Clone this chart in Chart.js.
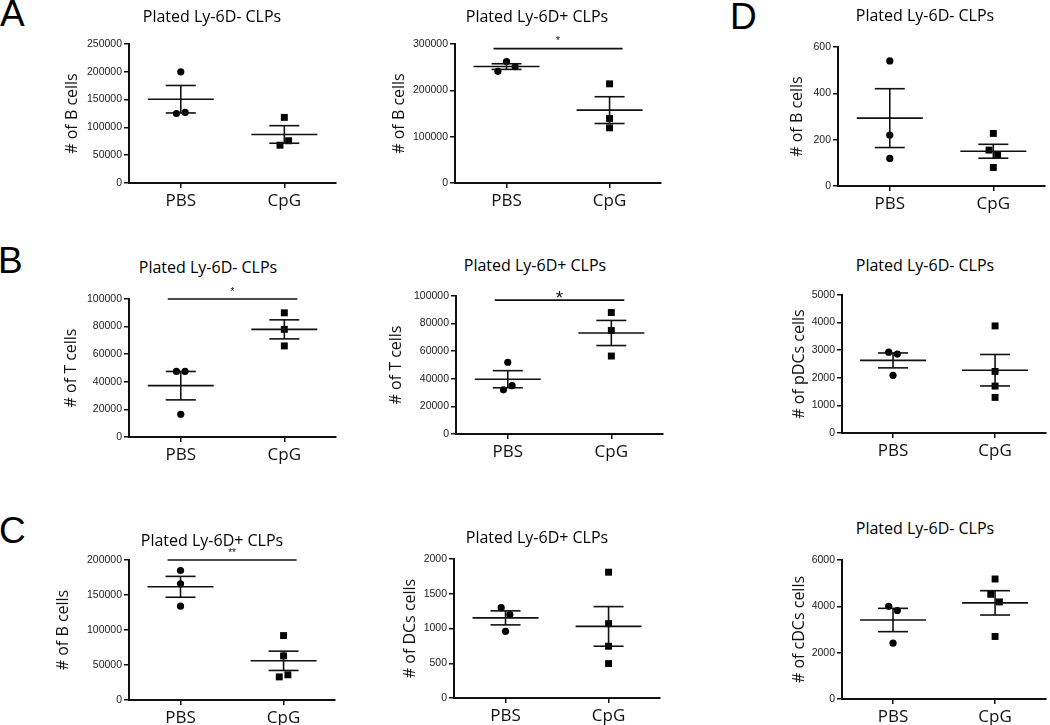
<!DOCTYPE html>
<html>
<head>
<meta charset="utf-8">
<title>B, T and DC output of plated CLPs</title>
<script src="https://cdn.jsdelivr.net/npm/chart.js@4.4.1/dist/chart.umd.min.js"></script>
<style>
  html, body { margin: 0; padding: 0; background: #fff; }
  #figure { position: relative; width: 1050px; height: 725px; overflow: hidden; }
  #figure canvas { position: absolute; }
  .letter { position: absolute; font-family: "Liberation Sans", Arial, sans-serif; font-size: 37px; line-height: 37px; color: #000; }
  .title { position: absolute; font-family: "Open Sans", sans-serif; font-size: 16px; line-height: 1; color: #000; white-space: nowrap; transform: translate(-50%, -50%); }
</style>
</head>
<body>
<div id="figure">
  <div class="letter" style="left:0px; top:-5px">A</div>
  <div class="letter" style="left:-2px; top:242px">B</div>
  <div class="letter" style="left:-1px; top:512px">C</div>
  <div class="letter" style="left:730px; top:-2px">D</div>
</div>

<script>
const groups = ['PBS', 'CpG'];
const titleMinus = 'Plated Ly-6D- CLPs';
const titlePlus = 'Plated Ly-6D+ CLPs';

// A, left
const aLeftPbs = [200000, 125000, 127000];
const aLeftCpg = [118000, 68000, 76000];
const aLeftMean = [150700, 87300];
const aLeftSem = [24700, 15800];
const aLeftTicks = [0, 50000, 100000, 150000, 200000, 250000];

// A, right
const aRightPbs = [241000, 262000, 251000];
const aRightCpg = [214000, 139000, 119000];
const aRightMean = [251300, 157300];
const aRightSem = [6100, 28900];
const aRightTicks = [0, 100000, 200000, 300000];
const aRightSig = 290000;

// B, left
const bLeftPbs = [47500, 47500, 16500];
const bLeftCpg = [90000, 78000, 66000];
const bLeftMean = [37200, 78000];
const bLeftSem = [10300, 6900];
const bLeftTicks = [0, 20000, 40000, 60000, 80000, 100000];
const bLeftSig = 100000;

// B, right
const bRightPbs = [52000, 32000, 35000];
const bRightCpg = [88000, 75000, 56500];
const bRightMean = [39700, 73200];
const bRightSem = [6200, 9100];
const bRightTicks = [0, 20000, 40000, 60000, 80000, 100000];
const bRightSig = 97000;

// C, left
const cLeftPbs = [185000, 166000, 134000];
const cLeftCpg = [92000, 63000, 33000, 36000];
const cLeftMean = [161700, 56000];
const cLeftSem = [14900, 13800];
const cLeftTicks = [0, 50000, 100000, 150000, 200000];
const cLeftSig = 200000;

// C, right
const cRightPbs = [1300, 1200, 960];
const cRightCpg = [1810, 1070, 745, 495];
const cRightMean = [1153, 1030];
const cRightSem = [101, 285];
const cRightTicks = [0, 500, 1000, 1500, 2000];

// D, top / middle / bottom
const dTopPbs = [540, 220, 119];
const dTopCpg = [227, 155, 136, 80];
const dTopMean = [293, 150];
const dTopSem = [127, 30];
const dTopTicks = [0, 200, 400, 600];

const dMidPbs = [2930, 2860, 2090];
const dMidCpg = [3880, 2230, 1700, 1290];
const dMidMean = [2630, 2275];
const dMidSem = [270, 570];
const dMidTicks = [0, 1000, 2000, 3000, 4000, 5000];

const dLowPbs = [4000, 3820, 2410];
const dLowCpg = [5180, 4520, 4190, 2700];
const dLowMean = [3410, 4150];
const dLowSem = [503, 525];
const dLowTicks = [0, 2000, 4000, 6000];

const INK = '#111';
const figure = document.getElementById('figure');

// points that would overlap are set side by side, in listed order (like Prism does)
function sideBySide(values, yMax, plotH, plotW) {
    const order = values.map((v, i) => i).sort((a, b) => values[a] - values[b]);
    const clusters = [];
    order.forEach(i => {
        const last = clusters[clusters.length - 1];
        if (last && (values[i] - values[last[last.length - 1]]) / yMax * plotH < 8.5) {
            last.push(i);
        } else {
            clusters.push([i]);
        }
    });
    const offsets = values.map(() => 0);
    clusters.forEach(c => {
        c.sort((a, b) => a - b);
        c.forEach((idx, k) => {
            offsets[idx] = (k - (c.length - 1) / 2) * 8.7 / (plotW / 2);
        });
    });
    return offsets;
}

// mean line, SEM whiskers and the significance bar
const statsPlugin = {
    id: 'stats',
    afterDatasetsDraw(chart, args, opts) {
        const { ctx, scales: { x, y } } = chart;
        const seg = (x1, y1, x2, y2) => {
            ctx.beginPath();
            ctx.moveTo(x1, y1);
            ctx.lineTo(x2, y2);
            ctx.stroke();
        };
        ctx.save();
        ctx.strokeStyle = INK;
        ctx.lineWidth = 1.6;
        opts.mean.forEach((m, i) => {
            const cx = x.getPixelForValue(i + 1);
            const my = y.getPixelForValue(m);
            const hi = y.getPixelForValue(m + opts.sem[i]);
            const lo = y.getPixelForValue(m - opts.sem[i]);
            seg(cx - 33, my, cx + 33, my);
            seg(cx, hi, cx, lo);
            seg(cx - 15, hi, cx + 15, hi);
            seg(cx - 15, lo, cx + 15, lo);
        });
        if (opts.sig != null) {
            const by = y.getPixelForValue(opts.sig);
            const x1 = x.getPixelForValue(1) - 13;
            const x2 = x.getPixelForValue(2) + 13;
            seg(x1, by, x2, by);
            ctx.fillStyle = INK;
            ctx.font = opts.starSize + 'px "Liberation Sans", Arial, sans-serif';
            ctx.textAlign = 'center';
            ctx.textBaseline = 'alphabetic';
            ctx.fillText(opts.stars, (x1 + x2) / 2, by - opts.starGap + 0.58 * opts.starSize);
        }
        ctx.restore();
    }
};

function makePanel(p) {
    const g = p.geo;
    const L = g.ax - 100;
    const T = g.pt - 18;
    const W = g.pr - L + 3;
    const H = g.pb - T + 40;
    const plotW = g.pr - g.ax;
    const plotH = g.pb - g.pt;
    const yMax = p.ticks[p.ticks.length - 1];

    const canvas = document.createElement('canvas');
    canvas.width = W;
    canvas.height = H;
    canvas.style.left = L + 'px';
    canvas.style.top = T + 'px';
    figure.appendChild(canvas);

    const title = document.createElement('div');
    title.className = 'title';
    title.textContent = p.title;
    title.style.left = g.tx + 'px';
    title.style.top = g.ty + 'px';
    figure.appendChild(title);

    const pbsOff = sideBySide(p.pbs, yMax, plotH, plotW);
    const cpgOff = sideBySide(p.cpg, yMax, plotH, plotW);

    const axisGrid = { drawOnChartArea: false, drawTicks: true, tickLength: 5, lineWidth: 1.5, color: INK };
    const axisBorder = { display: true, color: INK, width: 2 };

    new Chart(canvas.getContext('2d'), {
        type: 'scatter',
        data: {
            datasets: [{
                label: groups[0],
                data: p.pbs.map((v, i) => ({ x: 1 + pbsOff[i], y: v })),
                pointStyle: 'circle',
                pointRadius: 3.6,
                backgroundColor: '#000',
                borderColor: '#000',
                borderWidth: 0
            }, {
                label: groups[1],
                data: p.cpg.map((v, i) => ({ x: 2 + cpgOff[i], y: v })),
                pointStyle: 'rect',
                pointRadius: 4.9,
                backgroundColor: '#000',
                borderColor: '#000',
                borderWidth: 0
            }]
        },
        options: {
            responsive: false,
            animation: false,
            events: [],
            clip: false,
            layout: { padding: { top: 18, right: 3, left: 0, bottom: 0 } },
            plugins: {
                legend: { display: false },
                tooltip: { enabled: false },
                stats: {
                    mean: p.mean, sem: p.sem, sig: p.sig,
                    stars: p.stars, starSize: p.starSize || 10, starGap: p.starGap || 10
                }
            },
            scales: {
                x: {
                    type: 'linear',
                    min: 0.5,
                    max: 2.5,
                    afterBuildTicks: s => { s.ticks = groups.map((_, i) => ({ value: i + 1 })); },
                    afterFit: s => { s.height = 40; },
                    grid: axisGrid,
                    border: axisBorder,
                    ticks: {
                        autoSkip: false,
                        maxRotation: 0,
                        callback: (v, i) => groups[i],
                        font: { family: 'Open Sans', size: 17 },
                        color: INK,
                        padding: 3
                    }
                },
                y: {
                    min: 0,
                    max: yMax,
                    afterBuildTicks: s => { s.ticks = p.ticks.map(v => ({ value: v })); },
                    afterFit: s => { s.width = 100; },
                    grid: axisGrid,
                    border: axisBorder,
                    ticks: {
                        callback: v => String(v),
                        font: { family: 'Liberation Sans', size: 10.5 },
                        color: '#222',
                        padding: 2
                    },
                    title: {
                        display: true,
                        text: p.yLabel,
                        font: { family: 'Open Sans', size: 16 },
                        color: INK,
                        padding: { top: (g.yx - L) - 9.6, bottom: 0 }
                    }
                }
            }
        },
        plugins: [statsPlugin]
    });
}

makePanel({
    title: titleMinus, yLabel: '# of B cells',
    pbs: aLeftPbs, cpg: aLeftCpg, mean: aLeftMean, sem: aLeftSem, ticks: aLeftTicks,
    geo: { ax: 129, pr: 338, pt: 44, pb: 183, tx: 212, ty: 16, yx: 72 }
});
makePanel({
    title: titlePlus, yLabel: '# of B cells',
    pbs: aRightPbs, cpg: aRightCpg, mean: aRightMean, sem: aRightSem, ticks: aRightTicks,
    sig: aRightSig, stars: '*',
    geo: { ax: 455, pr: 663, pt: 44, pb: 183, tx: 537, ty: 16, yx: 399 }
});
makePanel({
    title: titleMinus, yLabel: '# of B cells',
    pbs: dTopPbs, cpg: dTopCpg, mean: dTopMean, sem: dTopSem, ticks: dTopTicks,
    geo: { ax: 838, pr: 1047, pt: 47, pb: 186, tx: 925, ty: 15, yx: 797 }
});
makePanel({
    title: titleMinus, yLabel: '# of T cells',
    pbs: bLeftPbs, cpg: bLeftCpg, mean: bLeftMean, sem: bLeftSem, ticks: bLeftTicks,
    sig: bLeftSig, stars: '*',
    geo: { ax: 129, pr: 338, pt: 299, pb: 437, tx: 208, ty: 267, yx: 71 }
});
makePanel({
    title: titlePlus, yLabel: '# of T cells',
    pbs: bRightPbs, cpg: bRightCpg, mean: bRightMean, sem: bRightSem, ticks: bRightTicks,
    sig: bRightSig, stars: '*', starSize: 19, starGap: 7,
    geo: { ax: 456, pr: 665, pt: 296, pb: 434, tx: 535, ty: 265, yx: 396 }
});
makePanel({
    title: titleMinus, yLabel: '# of pDCs cells',
    pbs: dMidPbs, cpg: dMidCpg, mean: dMidMean, sem: dMidSem, ticks: dMidTicks,
    geo: { ax: 842, pr: 1048, pt: 295, pb: 433, tx: 925, ty: 265, yx: 799 }
});
makePanel({
    title: titlePlus, yLabel: '# of B cells',
    pbs: cLeftPbs, cpg: cLeftCpg, mean: cLeftMean, sem: cLeftSem, ticks: cLeftTicks,
    sig: cLeftSig, stars: '**',
    geo: { ax: 129, pr: 337, pt: 560, pb: 700, tx: 212, ty: 540, yx: 63 }
});
makePanel({
    title: titlePlus, yLabel: '# of DCs cells',
    pbs: cRightPbs, cpg: cRightCpg, mean: cRightMean, sem: cRightSem, ticks: cRightTicks,
    geo: { ax: 454, pr: 662, pt: 559, pb: 698, tx: 537, ty: 537, yx: 410 }
});
makePanel({
    title: titleMinus, yLabel: '# of cDCs cells',
    pbs: dLowPbs, cpg: dLowCpg, mean: dLowMean, sem: dLowSem, ticks: dLowTicks,
    geo: { ax: 842, pr: 1048, pt: 560, pb: 699, tx: 925, ty: 528, yx: 799 }
});
</script>
</body>
</html>
